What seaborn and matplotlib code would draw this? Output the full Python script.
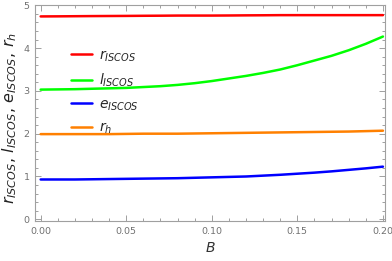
import numpy as np
import pandas as pd
import matplotlib
matplotlib.use("Agg")
import matplotlib.pyplot as plt
import seaborn as sns
from matplotlib.ticker import MultipleLocator

B = [0.00, 0.01, 0.02, 0.03, 0.04, 0.05, 0.06, 0.07, 0.08, 0.09, 0.10,
     0.11, 0.12, 0.13, 0.14, 0.15, 0.16, 0.17, 0.18, 0.19, 0.20]
r_isco = [4.74, 4.742, 4.745, 4.748, 4.75, 4.752, 4.755, 4.757, 4.76, 4.76, 4.76,
          4.762, 4.765, 4.767, 4.77, 4.77, 4.77, 4.77, 4.77, 4.77, 4.77]
l_isco = [3.03, 3.035, 3.04, 3.05, 3.06, 3.07, 3.09, 3.11, 3.14, 3.18, 3.23,
          3.29, 3.35, 3.42, 3.50, 3.60, 3.71, 3.82, 3.95, 4.10, 4.27]
e_isco = [0.93, 0.93, 0.93, 0.935, 0.94, 0.945, 0.95, 0.955, 0.96, 0.97, 0.98,
          0.99, 1.00, 1.02, 1.04, 1.065, 1.09, 1.12, 1.155, 1.19, 1.23]
r_h = [1.99, 1.99, 1.99, 1.99, 1.99, 1.995, 2.00, 2.00, 2.00, 2.005, 2.01,
       2.015, 2.02, 2.025, 2.03, 2.035, 2.04, 2.045, 2.05, 2.06, 2.07]

labels = [r'$r_{ISCOS}$', r'$l_{ISCOS}$', r'$e_{ISCOS}$', r'$r_h$']
colors = ['#ff0000', '#00ff00', '#0000ff', '#ff8000']

sns.set_style("white")
plt.rcParams['font.family'] = ['DejaVu Sans']
plt.rcParams['mathtext.fontset'] = 'dejavusans'

df = pd.concat([
    pd.DataFrame({'B': B, 'value': v, 'series': lab})
    for v, lab in zip([r_isco, l_isco, e_isco, r_h], labels)
])

fig = plt.figure(figsize=(3.92, 2.61), dpi=100)
ax = fig.add_axes([35/392, 1-221/261, (385-35)/392, (221-4.7)/261])
sns.lineplot(data=df, x='B', y='value', hue='series', hue_order=labels,
             palette=colors, linewidth=1.8, ax=ax, estimator=None)

ax.set_xlim(-0.0033, 0.2012)
ax.set_ylim(-0.04, 5.014)
ax.xaxis.set_major_locator(MultipleLocator(0.05))
ax.xaxis.set_minor_locator(MultipleLocator(0.01))
ax.yaxis.set_major_locator(MultipleLocator(1))
ax.yaxis.set_minor_locator(MultipleLocator(0.2))
ax.xaxis.set_major_formatter(matplotlib.ticker.FormatStrFormatter('%.2f'))
ax.yaxis.set_major_formatter(matplotlib.ticker.FormatStrFormatter('%d'))

gray = '#a0a0a0'
for s in ax.spines.values():
    s.set_color(gray)
    s.set_linewidth(0.8)
ax.tick_params(which='both', direction='in', top=True, right=True,
               bottom=True, left=True, color=gray, labelcolor='#707070',
               labelsize=6.8, width=0.7)
ax.tick_params(which='major', length=4, pad=4)
ax.tick_params(which='minor', length=2)
ax.tick_params(axis='y', labelright=False)
ax.tick_params(axis='x', labeltop=False)

ax.set_xlabel(r'$B$', fontsize=10, color='#333333', labelpad=4)
ax.set_ylabel(r'$r_{ISCOS},\, l_{ISCOS},\, e_{ISCOS},\, r_h$', fontsize=11.5,
              color='#222222')
ax.yaxis.set_label_coords(-0.045, 0.476)

leg = ax.legend(loc='upper left', bbox_to_anchor=(0.088, 0.824), frameon=False,
                fontsize=10, handlelength=1.5, handletextpad=0.5,
                labelspacing=0.58, borderaxespad=0)
for line in leg.get_lines():
    line.set_linewidth(1.8)

fig.savefig('out.png', dpi=100)
